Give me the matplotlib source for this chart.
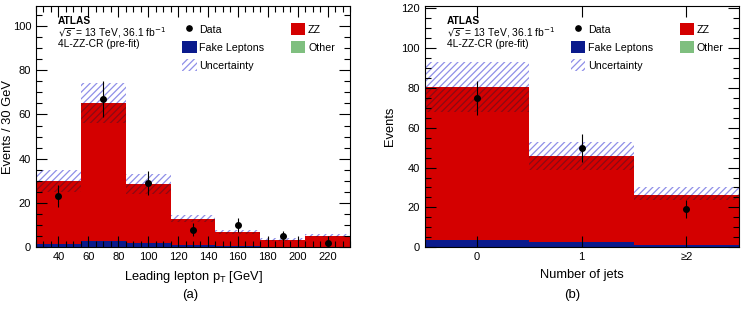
import numpy as np
import matplotlib
matplotlib.use("Agg")
import matplotlib.pyplot as plt
from matplotlib.patches import Patch
from matplotlib.lines import Line2D
from matplotlib.ticker import MultipleLocator, FixedLocator

plt.rcParams['font.family'] = ['Liberation Sans', 'DejaVu Sans']
plt.rcParams['hatch.linewidth'] = 0.9

# ---- panel (a): leading lepton pT ----
pt_edges = [25, 55, 85, 115, 145, 175, 205, 235]
pt_centers = [40, 70, 100, 130, 160, 190, 220]
pt_fake = [1.5, 3.0, 1.8, 1.0, 0.5, 0.3, 0.3]
pt_other = [0.05, 0.05, 0.05, 0.03, 0.03, 0.02, 0.02]
pt_total = [30, 65, 28.5, 13, 7, 3.5, 5]
pt_unc_lo = [25, 56, 24, 11.5, 6, 3.0, 4.5]
pt_unc_hi = [35, 74, 33, 14.5, 8, 4.0, 6]
pt_data = [23, 67, 29, 8, 10, 5, 2]
pt_err = [5, 8, 5.5, 3, 3.2, 2.2, 1.4]

# ---- panel (b): number of jets ----
nj_edges = [-0.5, 0.5, 1.5, 2.5]
nj_centers = [0, 1, 2]
nj_labels = ['0', '1', '≥2']
nj_fake = [3.5, 2.8, 1.0]
nj_other = [0.05, 0.05, 0.05]
nj_total = [80.5, 46, 26]
nj_unc_lo = [68, 39, 23.5]
nj_unc_hi = [93, 53, 30]
nj_data = [75, 50, 19]
nj_err = [8.5, 7, 4.5]

C_ZZ = '#d40000'
C_FAKE = '#0a1a8c'
C_OTHER = '#7fbf7f'
C_UNC = '#8f8fe8'
C_UNC_RED = '#8a0a14'
HATCH = '/////'


def draw_panel(ax, edges, centers, fake, other, total, lo, hi, data, err):
    edges = np.array(edges)
    left = edges[:-1]
    width = np.diff(edges)
    fake = np.array(fake)
    other = np.array(other)
    total = np.array(total)
    lo = np.array(lo)
    hi = np.array(hi)
    ax.bar(left, fake, width=width, align='edge', color=C_FAKE, lw=0)
    ax.bar(left, other, bottom=fake, width=width, align='edge', color=C_OTHER, lw=0)
    ax.bar(left, total - fake - other, bottom=fake + other, width=width,
           align='edge', color=C_ZZ, lw=0)
    # uncertainty hatching: dark over the red stack, blue above it
    in_top = np.minimum(hi, total)
    ax.bar(left, in_top - lo, bottom=lo, width=width, align='edge',
           facecolor='none', edgecolor=C_UNC_RED, hatch=HATCH, lw=0)
    ax.bar(left, hi - in_top, bottom=in_top, width=width, align='edge',
           facecolor='none', edgecolor=C_UNC, hatch=HATCH, lw=0)
    ax.errorbar(centers, data, yerr=err, fmt='o', color='black', ms=4,
                elinewidth=0.8, capsize=0, zorder=5)
    ax.tick_params(which='both', direction='in', top=True, right=True,
                   labelsize=8, width=0.8)
    ax.tick_params(which='major', length=8)
    ax.tick_params(which='minor', length=4)
    ax.yaxis.set_minor_locator(MultipleLocator(5))
    for s in ax.spines.values():
        s.set_linewidth(0.8)


def add_labels(ax):
    ax.text(0.07, 0.937, 'ATLAS', transform=ax.transAxes, fontsize=7.3,
            fontweight='bold', va='center')
    ax.text(0.07, 0.889, r'$\sqrt{s}$ = 13 TeV, 36.1 fb$^{-1}$', transform=ax.transAxes,
            fontsize=7.4, va='center')
    ax.text(0.07, 0.843, '4L-ZZ-CR (pre-fit)', transform=ax.transAxes,
            fontsize=7.4, va='center')
    kw = dict(frameon=False, fontsize=7.7, handlelength=1.35, handleheight=1.3,
              labelspacing=0.6, handletextpad=0.25, borderpad=0.2)
    h1 = [Line2D([], [], marker='o', color='black', ls='none', ms=3.8),
          Patch(facecolor=C_FAKE, edgecolor='none'),
          Patch(facecolor='none', edgecolor=C_UNC, hatch=HATCH, lw=0)]
    l1 = ['Data', 'Fake Leptons', 'Uncertainty']
    leg1 = ax.legend(h1, l1, loc='upper left', bbox_to_anchor=(0.442, 0.96), **kw)
    ax.add_artist(leg1)
    h2 = [Patch(facecolor=C_ZZ, edgecolor='none'),
          Patch(facecolor=C_OTHER, edgecolor='none')]
    ax.legend(h2, ['ZZ', 'Other'], loc='upper left', bbox_to_anchor=(0.788, 0.96), **kw)


fig = plt.figure(figsize=(7.45, 3.09), dpi=100)
ax1 = fig.add_axes([36 / 745, 1 - 247.3 / 309, 314 / 745, 241.3 / 309])
ax2 = fig.add_axes([424.7 / 745, 1 - 247.3 / 309, 314 / 745, 241.3 / 309])

draw_panel(ax1, pt_edges, pt_centers, pt_fake, pt_other, pt_total,
           pt_unc_lo, pt_unc_hi, pt_data, pt_err)
ax1.set_xlim(25, 235)
ax1.set_ylim(0, 109)
ax1.xaxis.set_minor_locator(MultipleLocator(5))
ax1.yaxis.set_major_locator(MultipleLocator(20))
ax1.set_xticks([40, 60, 80, 100, 120, 140, 160, 180, 200, 220])
ax1.set_xlabel(r'Leading lepton p$_\mathregular{T}$ [GeV]', fontsize=9.3, labelpad=5)
ax1.set_ylabel('Events / 30 GeV', fontsize=9.3)
ax1.yaxis.set_label_coords(-0.07, 0.5)
add_labels(ax1)

draw_panel(ax2, nj_edges, nj_centers, nj_fake, nj_other, nj_total,
           nj_unc_lo, nj_unc_hi, nj_data, nj_err)
ax2.set_xlim(-0.5, 2.5)
ax2.set_ylim(0, 121)
ax2.xaxis.set_major_locator(FixedLocator(nj_centers))
ax2.set_xticklabels(nj_labels)
ax2.yaxis.set_major_locator(MultipleLocator(20))
ax2.set_xlabel('Number of jets', fontsize=9.3, labelpad=5)
ax2.set_ylabel('Events', fontsize=9.3)
add_labels(ax2)

fig.text(190 / 745, 1 - 295 / 309, '(a)', fontsize=9.5, ha='center', va='center')
fig.text(572 / 745, 1 - 295 / 309, '(b)', fontsize=9.5, ha='center', va='center')

fig.savefig('out.png', dpi=100)
